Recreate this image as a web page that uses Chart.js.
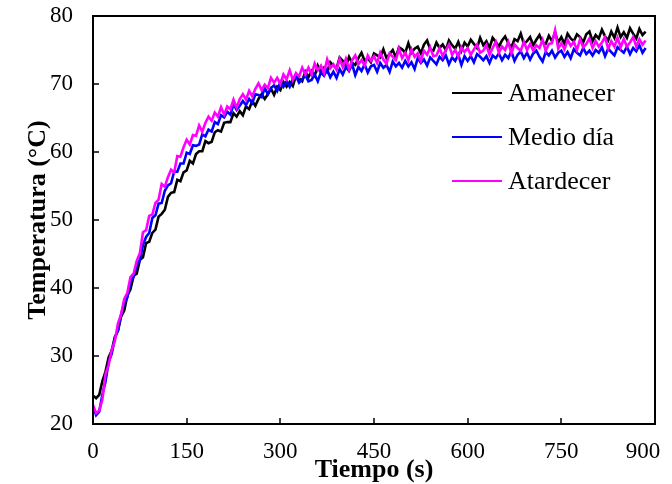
<!DOCTYPE html>
<html>
<head>
<meta charset="utf-8">
<title>Temperatura vs tiempo</title>
<script src="https://cdn.jsdelivr.net/npm/chart.js@4.4.1/dist/chart.umd.min.js"></script>
<style>
  html, body { margin: 0; padding: 0; background: #fff; }
  #chart { display: block; }
</style>
</head>
<body>
<canvas id="chart" width="672" height="484"></canvas>
<script>
// sample times (s)
const timeSec = [
  0, 5, 10, 15, 20, 25, 30, 35, 40, 45, 50, 55, 60, 65, 70, 75, 80, 85, 90, 95,
  100, 105, 110, 115, 120, 125, 130, 135, 140, 145, 150, 155, 160, 165, 170, 175, 180, 185, 190, 195,
  200, 205, 210, 215, 220, 225, 230, 235, 240, 245, 250, 255, 260, 265, 270, 275, 280, 285, 290, 295,
  300, 305, 310, 315, 320, 325, 330, 335, 340, 345, 350, 355, 360, 365, 370, 375, 380, 385, 390, 395,
  400, 405, 410, 415, 420, 425, 430, 435, 440, 445, 450, 455, 460, 465, 470, 475, 480, 485, 490, 495,
  500, 505, 510, 515, 520, 525, 530, 535, 540, 545, 550, 555, 560, 565, 570, 575, 580, 585, 590, 595,
  600, 605, 610, 615, 620, 625, 630, 635, 640, 645, 650, 655, 660, 665, 670, 675, 680, 685, 690, 695,
  700, 705, 710, 715, 720, 725, 730, 735, 740, 745, 750, 755, 760, 765, 770, 775, 780, 785, 790, 795,
  800, 805, 810, 815, 820, 825, 830, 835, 840, 845, 850, 855, 860, 865, 870, 875, 880, 885
];

// Amanecer (black)
const amanecer = [
  24.2, 23.8, 24.3, 26.3, 27.7, 29.8, 30.8, 32.8, 33.7, 35.8,
  36.7, 38.9, 39.8, 41.8, 42.1, 44.1, 44.5, 46.6, 46.8, 48.1,
  48.6, 50.5, 50.9, 51.5, 53.4, 54.0, 54.1, 55.9, 55.7, 57.0,
  57.3, 58.7, 58.3, 59.7, 60.1, 60.1, 61.6, 61.3, 61.5, 62.9,
  63.2, 63.0, 64.3, 64.4, 64.4, 65.7, 65.2, 66.0, 65.4, 66.7,
  66.3, 67.5, 66.8, 67.8, 68.5, 67.8, 68.5, 69.3, 68.4, 69.6,
  69.1, 70.3, 69.6, 70.3, 69.7, 71.2, 70.8, 70.4, 71.8, 71.0,
  71.9, 71.2, 72.7, 71.7, 72.4, 71.8, 73.2, 72.7, 72.3, 73.9,
  73.4, 72.6, 74.0, 73.1, 72.8, 73.8, 74.6, 73.4, 73.8, 73.2,
  74.5, 74.2, 73.9, 75.1, 73.8, 74.4, 75.0, 73.9, 75.4, 75.1,
  74.6, 76.0, 74.6, 75.2, 75.5, 74.5, 75.8, 76.4, 75.1, 74.9,
  76.1, 75.3, 75.8, 75.0, 76.4, 75.7, 75.2, 76.2, 74.9, 76.1,
  75.5, 76.5, 75.9, 75.3, 76.8, 75.7, 76.3, 75.3, 76.8, 76.2,
  75.5, 76.4, 77.0, 76.0, 75.4, 76.6, 76.3, 77.4, 75.9, 76.3,
  76.9, 75.7, 76.5, 77.2, 76.1, 75.9, 77.1, 76.3, 77.6, 76.1,
  76.9, 75.9, 77.4, 76.7, 76.3, 77.3, 76.9, 76.1, 77.3, 77.7,
  76.3, 77.2, 76.7, 78.0, 77.0, 76.4, 77.7, 76.8, 78.3, 76.9,
  77.6, 76.8, 78.2, 77.4, 76.7, 78.1, 77.2, 77.7
];

// Medio día (blue)
const medioDia = [
  22.6, 21.3, 21.8, 24.3, 26.2, 29.1, 30.3, 32.6, 33.8, 36.1,
  37.8, 38.6, 41.0, 41.6, 43.4, 44.1, 46.3, 47.5, 48.1, 50.3,
  50.7, 52.4, 52.5, 54.3, 55.1, 55.4, 57.1, 57.1, 58.3, 58.3,
  59.9, 59.7, 61.0, 60.9, 61.1, 62.6, 62.3, 63.3, 63.0, 64.4,
  64.1, 65.4, 65.1, 65.9, 65.5, 67.0, 66.2, 66.8, 67.5, 66.9,
  67.8, 67.2, 68.5, 68.4, 68.1, 69.4, 68.5, 69.4, 69.8, 69.0,
  70.3, 69.6, 70.4, 69.6, 70.7, 71.2, 70.2, 70.7, 71.3, 70.4,
  70.6, 71.4, 70.4, 71.7, 71.2, 72.1, 71.0, 71.8, 70.9, 72.2,
  71.4, 72.5, 71.9, 72.9, 71.3, 72.5, 71.9, 72.9, 71.7, 72.6,
  72.8, 71.8, 73.1, 72.4, 72.8, 71.8, 73.3, 72.6, 73.1, 72.4,
  73.4, 72.6, 73.2, 72.2, 73.8, 73.1, 73.6, 72.7, 73.9, 73.4,
  72.9, 74.0, 73.5, 74.2, 72.9, 73.9, 73.4, 74.3, 72.8, 74.1,
  73.4, 74.1, 73.2, 74.4, 74.0, 73.5, 74.1, 73.1, 74.2, 73.8,
  74.5, 73.5, 74.3, 73.8, 74.8, 73.4, 74.3, 74.8, 73.8, 74.6,
  73.6, 74.5, 74.9, 74.0, 73.3, 74.7, 74.2, 74.9, 73.9, 74.6,
  74.9, 74.0, 74.7, 73.8, 75.1, 74.6, 74.2, 75.3, 74.4, 74.9,
  74.2, 75.0, 74.6, 75.4, 74.1, 75.2, 74.7, 74.2, 75.4, 75.0,
  74.6, 75.5, 74.4, 75.3, 74.8, 75.7, 74.6, 75.3
];

// Atardecer (magenta)
const atardecer = [
  22.8, 21.6, 22.0, 23.6, 27.3, 28.7, 30.9, 32.2, 34.8, 36.1,
  38.4, 39.3, 41.6, 42.1, 44.0, 45.1, 48.2, 48.5, 50.6, 50.8,
  52.5, 53.0, 55.3, 54.9, 56.3, 57.4, 57.0, 59.4, 59.3, 60.7,
  61.8, 61.1, 62.5, 62.4, 63.9, 63.0, 64.3, 65.2, 64.6, 65.8,
  65.2, 66.6, 65.5, 66.7, 66.3, 67.7, 66.5, 67.8, 68.5, 67.7,
  69.0, 68.2, 69.3, 70.1, 69.1, 69.9, 69.4, 70.9, 70.2, 70.9,
  70.0, 71.4, 70.7, 72.0, 70.6, 71.6, 71.1, 72.4, 71.4, 72.4,
  71.4, 73.0, 72.0, 72.7, 71.6, 73.6, 72.3, 72.9, 72.1, 73.7,
  72.5, 73.7, 72.2, 73.5, 74.2, 72.9, 73.5, 72.7, 74.2, 73.4,
  74.1, 73.1, 74.6, 73.6, 73.0, 74.5, 74.0, 73.5, 75.2, 73.8,
  74.6, 73.5, 75.1, 74.0, 74.5, 73.4, 74.9, 74.3, 75.4, 74.1,
  74.2, 75.3, 74.1, 75.0, 75.8, 74.3, 75.0, 74.0, 75.4, 74.7,
  75.3, 74.3, 75.1, 75.8, 74.6, 74.9, 75.7, 74.3, 75.3, 76.2,
  74.6, 75.5, 75.0, 76.2, 74.5, 75.8, 75.3, 74.9, 76.2, 75.0,
  75.9, 74.9, 75.7, 75.3, 76.5, 74.9, 75.9, 76.0, 77.9, 75.2,
  76.0, 75.1, 76.5, 75.6, 76.2, 75.0, 76.6, 75.4, 75.9, 76.7,
  75.3, 76.3, 75.5, 76.1, 76.9, 75.2, 76.3, 75.5, 76.8, 75.4,
  76.6, 75.5, 76.1, 76.9, 75.5, 76.6, 75.8, 76.4
];

const seriesNames = ['Amanecer', 'Medio día', 'Atardecer'];
const seriesColors = ['#000000', '#0000ff', '#ff00ff'];
const seriesValues = [amanecer, medioDia, atardecer];

const X_MIN = 0, X_MAX = 900, X_STEP = 150;
const Y_MIN = 20, Y_MAX = 80, Y_STEP = 10;

const SERIF = "'Liberation Serif', 'Times New Roman', serif";

// keep the last x tick label inside the canvas, like the original
const lastLabelNudge = {
  id: 'lastLabelNudge',
  beforeDraw(chart) {
    const x = chart.scales.x;
    const items = x.getLabelItems ? x.getLabelItems(chart.chartArea) : null;
    const last = items && items[items.length - 1];
    if (last && last.options && last.options.translation) last.options.translation[0] -= 12;
  }
};

// inward tick marks + closed frame around the plot area
const framePlugin = {
  id: 'frame',
  afterDatasetsDraw(chart) {
    const { ctx, chartArea: a, scales: { x, y } } = chart;
    ctx.save();
    ctx.strokeStyle = '#000';
    ctx.lineWidth = 1.5;
    ctx.beginPath();
    x.ticks.forEach(t => {
      const px = Math.round(x.getPixelForValue(t.value));
      ctx.moveTo(px, a.bottom);
      ctx.lineTo(px, a.bottom - 6);
    });
    y.ticks.forEach(t => {
      const py = Math.round(y.getPixelForValue(t.value));
      ctx.moveTo(a.left, py);
      ctx.lineTo(a.left + 6, py);
    });
    ctx.stroke();
    ctx.lineWidth = 2;
    ctx.strokeRect(a.left, a.top, a.right - a.left, a.bottom - a.top);
    ctx.restore();
  }
};

// legend inside the plot, upper right
const insideLegend = {
  id: 'insideLegend',
  afterDraw(chart) {
    const { ctx, chartArea: a } = chart;
    ctx.save();
    ctx.font = '26px ' + SERIF;
    ctx.textBaseline = 'middle';
    ctx.textAlign = 'left';
    seriesNames.forEach((name, i) => {
      const yy = a.top + 77 + i * 44;
      ctx.strokeStyle = seriesColors[i];
      ctx.lineWidth = 2;
      ctx.beginPath();
      ctx.moveTo(a.right - 203, yy);
      ctx.lineTo(a.right - 153, yy);
      ctx.stroke();
      ctx.fillStyle = '#000';
      ctx.fillText(name, a.right - 147, yy + 1);
    });
    ctx.restore();
  }
};

const datasets = seriesNames.map((name, i) => ({
  label: name,
  data: timeSec.map((t, k) => ({ x: t, y: seriesValues[i][k] })),
  borderColor: seriesColors[i],
  borderWidth: 2.6,
  pointRadius: 0,
  tension: 0,
  fill: false,
  order: 2 - i,
}));

new Chart(document.getElementById('chart'), {
  type: 'line',
  data: { datasets },
  plugins: [lastLabelNudge, framePlugin, insideLegend],
  options: {
    responsive: false,
    animation: false,
    layout: { padding: { left: 0, top: 16, right: 17, bottom: 0 } },
    plugins: {
      legend: { display: false },
      tooltip: { enabled: false },
    },
    scales: {
      x: {
        type: 'linear',
        min: X_MIN,
        max: X_MAX,
        afterFit: s => { s.height = 60; s.paddingLeft = 0; s.paddingRight = 0; },
        grid: { display: false, drawTicks: false },
        border: { display: false },
        ticks: {
          stepSize: X_STEP,
          color: '#000',
          padding: 14,
          maxRotation: 0,
          font: { family: SERIF, size: 23 },
        },
        title: {
          display: true,
          text: 'Tiempo (s)',
          color: '#000',
          padding: { top: 0, bottom: -2 },
          font: { family: SERIF, size: 26, weight: 'bold' },
        },
      },
      y: {
        min: Y_MIN,
        max: Y_MAX,
        afterFit: s => { s.width = 93; s.paddingTop = 0; s.paddingBottom = 0; },
        grid: { display: false, drawTicks: false },
        border: { display: false },
        ticks: {
          stepSize: Y_STEP,
          color: '#000',
          padding: 20,
          font: { family: SERIF, size: 23 },
        },
        title: {
          display: true,
          text: 'Temperatura (°C)',
          color: '#000',
          padding: { top: 23, bottom: 0 },
          font: { family: SERIF, size: 26, weight: 'bold' },
        },
      },
    },
  },
});
</script>
</body>
</html>
